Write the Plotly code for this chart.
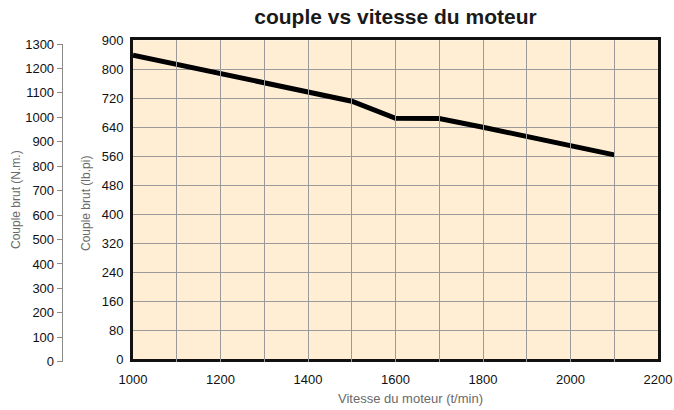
import plotly.graph_objects as go

# ---- data ----
speed_rpm = [1000, 1100, 1200, 1300, 1400, 1500, 1600, 1700, 1800, 1900, 2000, 2100]
torque_lbft = [839, 813, 787, 762, 737, 712, 665, 664, 640, 614, 589, 564]

x_tick_vals = [1000, 1100, 1200, 1300, 1400, 1500, 1600, 1700, 1800, 1900, 2000, 2100, 2200]
x_tick_text = ["1000", "", "1200", "", "1400", "", "1600", "", "1800", "", "2000", "", "2200"]

lb_tick_vals = [0, 80, 160, 240, 320, 400, 480, 560, 640, 720, 800, 880]
lb_tick_text = ["0", "80", "160", "240", "320", "400", "480", "560", "640", "720", "800", "900"]

nm_tick_vals = [0, 100, 200, 300, 400, 500, 600, 700, 800, 900, 1000, 1100, 1200, 1300]

title_text = "couple vs vitesse du moteur"
x_title = "Vitesse du moteur (t/min)"
y_title = "Couple brut (lb.pi)"
y2_title = "Couple brut (N.m.)"

# ---- layout helpers (pixel -> paper) ----
W, H = 674, 410
def fx(p):
    return p / W
def fy(p):
    return 1 - p / H

FONT = "Liberation Sans, Arial, sans-serif"
tick_font = dict(family=FONT, size=13, color="#111111")
title_font = dict(family=FONT, size=12, color="#6a6a6a")

fig = go.Figure()
fig.add_trace(go.Scatter(
    x=speed_rpm, y=torque_lbft, mode="lines",
    line=dict(color="black", width=5),
    showlegend=False, hoverinfo="skip",
))
# invisible trace so the N.m axis exists
fig.add_trace(go.Scatter(
    x=[None], y=[None], xaxis="x", yaxis="y2", mode="markers",
    showlegend=False, hoverinfo="skip",
))

fig.update_layout(
    width=W, height=H,
    margin=dict(l=0, r=0, t=0, b=0, autoexpand=False),
    paper_bgcolor="white",
    plot_bgcolor="rgba(0,0,0,0)",
    font=dict(family=FONT),
    title=dict(text=title_text, x=fx(395.5), y=fy(17), xanchor="center", yanchor="middle",
               automargin=False,
               font=dict(family=FONT, size=21, color="#1a1a1a", weight="bold")),
    xaxis=dict(
        domain=[fx(133), fx(658)], range=[1000, 2200], anchor="y", automargin=False,
        tickmode="array", tickvals=x_tick_vals, ticktext=x_tick_text,
        showgrid=True, gridcolor="#9a9a9a", gridwidth=1,
        showline=True, linecolor="#111111", linewidth=3, mirror=True,
        ticks="", zeroline=False, tickfont=tick_font, ticklabelstandoff=6,
    ),
    yaxis=dict(
        domain=[fy(359.3), fy(40.3)], range=[0, 880], anchor="x", automargin=False,
        tickmode="array", tickvals=lb_tick_vals, ticktext=lb_tick_text,
        showgrid=True, gridcolor="#9a9a9a", gridwidth=1,
        showline=True, linecolor="#111111", linewidth=3, mirror=True,
        ticks="", zeroline=False, tickfont=tick_font, ticklabelstandoff=4,
    ),
    yaxis2=dict(
        domain=[fy(361.7), fy(44)], range=[0, 1300], anchor="free", automargin=False,
        position=fx(61.7), side="left",
        tickmode="array", tickvals=nm_tick_vals,
        showgrid=False, zeroline=False,
        showline=True, linecolor="#8a8a8a", linewidth=1,
        ticks="outside", ticklen=5, tickwidth=1, tickcolor="#8a8a8a",
        tickfont=tick_font,
    ),
    shapes=[dict(type="rect", xref="x domain", yref="y domain",
                 x0=0, x1=1, y0=0, y1=1, fillcolor="#FFEED4",
                 line=dict(width=0), layer="below")],
    annotations=[
        dict(text=x_title, x=fx(410), y=fy(398), xref="paper", yref="paper",
             xanchor="center", yanchor="middle", showarrow=False,
             font=dict(family=FONT, size=13, color="#6a6a6a")),
        dict(text=y_title, x=fx(86), y=fy(204), xref="paper", yref="paper",
             xanchor="center", yanchor="middle", showarrow=False, textangle=-90, font=title_font),
        dict(text=y2_title, x=fx(16), y=fy(200), xref="paper", yref="paper",
             xanchor="center", yanchor="middle", showarrow=False, textangle=-90, font=title_font),
    ],
)

fig.write_html("out.html",
               config={"displayModeBar": False},
               post_script="document.body.style.margin='0';document.body.style.overflow='hidden';")
